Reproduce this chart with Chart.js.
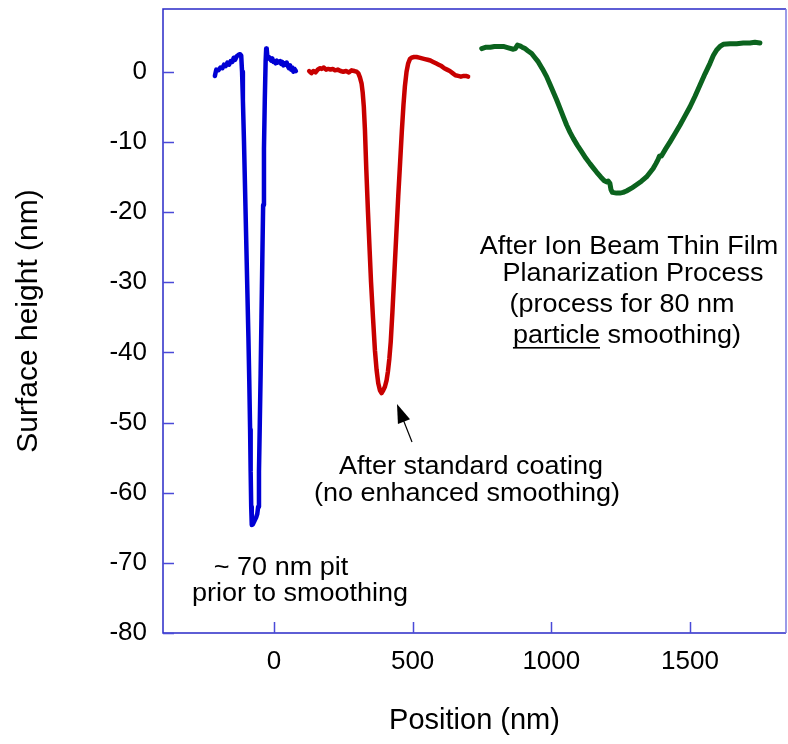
<!DOCTYPE html>
<html>
<head>
<meta charset="utf-8">
<script src="https://cdn.jsdelivr.net/npm/chart.js@4/dist/chart.umd.min.js"></script>
<style>
    body { margin: 0; background: #ffffff; }
    #wrap { width: 788px; height: 744px; }
</style>
</head>
<body>
<div id="wrap"><canvas id="profileChart"></canvas></div>
<script>
// Profile data (nm)
const pitX = [-213, -208, -200, -193, -186, -180, -174, -168, -162, -156, -150, -145, -140, -134, -128, -122, -118,
    -115, -112, -108, -104, -100, -96, -92, -89, -86, -84, -82, -80, -76, -70, -64, -60, -57, -54, -51, -48, -45, -42,
    -39, -36, -33, -30, -28, -26, -24, -21, -18, -14, -10, -6, -2, 2, 6, 10, 14, 18, 22, 26, 30, 34, 38, 42, 46,
    50, 54, 58, 62, 66, 70, 74, 79];
const pitY = [-0.6, 0.3, 0.2, 0.6, 0.5, 1.0, 0.8, 1.3, 1.0, 1.5, 1.4, 2.0, 1.7, 2.2, 2.4, 2.5, 2.3,
    0.0, -4.0, -10, -17, -24, -31, -38, -44, -51, -57, -62, -64.6, -64.5, -64.0, -63.5, -63.0, -62, -57, -50, -43, -35, -27,
    -19, -11, -4, 1.5, 3.3, 3.2, 2.3, 1.9, 2.1, 1.8, 1.6, 1.9, 1.4, 1.5, 1.2, 1.6, 1.3, 1.4, 1.5, 1.1, 1.4, 0.9, 1.2, 1.0, 1.3,
    0.8, 0.5, 0.9, 0.3, 0.6, 0.0, 0.4, 0.1];

const coatX = [127, 135, 142, 150, 158, 165, 172, 180, 188, 196, 204, 212, 220, 230, 240, 250, 260, 270, 280, 290,
    298, 304, 310, 316, 320, 324, 328, 333, 339, 345, 350, 357, 364, 370, 376, 382, 388, 394, 400, 406, 411, 416, 421,
    427, 434, 441, 448, 455, 461, 467, 472, 478, 484, 490, 496, 505, 514, 524, 534, 544, 554, 564, 574, 584,
    594, 604, 614, 624, 634, 644, 654, 664, 674, 684, 692, 700];
const coatY = [0.1, -0.2, 0.1, -0.1, 0.3, 0.5, 0.4, 0.6, 0.3, 0.4, 0.3, 0.4, 0.2, 0.3, 0.1, 0.0, 0.1, -0.1, 0.2, 0.1,
    0.0, -0.2, -0.8, -1.7, -3.0, -5.0, -8.3, -14, -20, -25.5, -30, -35, -39.7, -42.5, -44.4, -45.4, -45.8, -45.4, -44.9, -44.0, -42.7, -40.9, -38.5,
    -34.3, -28.8, -23.3, -17.8, -12.8, -8.5, -4.7, -2.1, 0.0, 1.2, 1.8, 2.0, 2.1, 2.1, 2.0, 1.9, 1.8, 1.7, 1.6, 1.4, 1.2,
    1.0, 0.8, 0.5, 0.3, 0.1, -0.2, -0.5, -0.6, -0.7, -0.6, -0.6, -0.7];

const ionX = [749, 765, 780, 795, 810, 827, 845, 863, 870, 878, 886, 895, 905, 915, 929, 941, 953, 968, 983, 995,
    1007, 1019, 1031, 1043, 1055, 1067, 1079, 1094, 1109, 1124, 1139, 1151, 1163, 1178, 1190, 1199, 1205, 1211, 1215,
    1220, 1235, 1247, 1259, 1271, 1289, 1307, 1325, 1343, 1355, 1367, 1377, 1385, 1390, 1397, 1412, 1428, 1446, 1464,
    1482, 1500, 1518, 1536, 1554, 1572, 1584, 1596, 1608, 1620, 1644, 1668, 1692, 1716, 1734, 1752];
const ionY = [3.3, 3.5, 3.5, 3.6, 3.6, 3.6, 3.4, 3.2, 3.3, 3.8, 3.7, 3.5, 3.3, 3.0, 2.6, 2.0, 1.4, 0.4, -0.7, -1.8,
    -2.9, -4.0, -5.2, -6.4, -7.6, -8.6, -9.5, -10.5, -11.4, -12.3, -13.1, -13.7, -14.3, -15.0, -15.5, -15.7, -15.6, -15.9, -16.8,
    -17.2, -17.3, -17.3, -17.2, -17.0, -16.6, -16.1, -15.6, -15.0, -14.4, -13.8, -13.1, -12.5, -12.0, -12.0, -11.0, -10.0, -8.8, -7.6,
    -6.3, -5.0, -3.5, -1.9, -0.3, 1.2, 2.3, 3.1, 3.6, 3.9, 4.0, 4.0, 4.1, 4.1, 4.2, 4.1];

const xTicks = [0, 500, 1000, 1500];
const yTicks = [0, -10, -20, -30, -40, -50, -60, -70, -80];

const FONT = "'Liberation Sans', Arial, sans-serif";
const AXIS_BLUE = "#2a2ac8";

const toPoints = (xs, ys) => xs.map((x, i) => ({ x: x, y: ys[i] }));

// Annotation text lines (pixel anchors: centre x, baseline y)
const notes = [
    { text: "After Ion Beam Thin Film", x: 629, y: 254 },
    { text: "Planarization Process", x: 633, y: 281 },
    { text: "(process for 80 nm", x: 622, y: 312 },
    { text: "particle smoothing)", x: 627, y: 343, underline: "particle" },
    { text: "After standard coating", x: 471, y: 474 },
    { text: "(no enhanced smoothing)", x: 467, y: 501 },
    { text: "~ 70 nm pit", x: 281, y: 575 },
    { text: "prior to smoothing", x: 300, y: 601 },
];

function drawNote(ctx, note) {
    const stretch = 1.08;
    ctx.save();
    ctx.font = "25px " + FONT;
    ctx.fillStyle = "#000";
    ctx.translate(note.x, note.y);
    ctx.scale(stretch, 1);
    ctx.textAlign = "center";
    ctx.textBaseline = "alphabetic";
    ctx.fillText(note.text, 0, 0);
    if (note.underline) {
        const full = ctx.measureText(note.text).width;
        const part = ctx.measureText(note.underline).width;
        ctx.fillRect(-full / 2, 4, part, 1.6);
    }
    ctx.restore();
}

// Frame, inward ticks, notes and arrow
const decorations = {
    id: "decorations",
    afterDraw(chart) {
        const { ctx, chartArea: a, scales } = chart;
        ctx.save();
        ctx.lineWidth = 1.5;
        ctx.strokeStyle = AXIS_BLUE;
        ctx.beginPath();
        ctx.moveTo(a.right, a.top);
        ctx.lineTo(a.left, a.top);
        ctx.lineTo(a.left, a.bottom);
        ctx.lineTo(a.right, a.bottom);
        ctx.stroke();
        ctx.strokeStyle = "#7a7ae0";
        ctx.beginPath();
        ctx.moveTo(a.right, a.top);
        ctx.lineTo(a.right, a.bottom);
        ctx.stroke();

        ctx.strokeStyle = "#4a4ad8";
        ctx.beginPath();
        yTicks.forEach((v) => {
            const py = Math.round(scales.y.getPixelForValue(v)) + 0.5;
            ctx.moveTo(a.left, py);
            ctx.lineTo(a.left + 11, py);
        });
        xTicks.forEach((v) => {
            const px = Math.round(scales.x.getPixelForValue(v)) + 0.5;
            ctx.moveTo(px, a.bottom);
            ctx.lineTo(px, a.bottom - 11);
        });
        ctx.stroke();
        ctx.restore();

        notes.forEach((n) => drawNote(ctx, n));

        // arrow pointing at the bottom of the red pit
        const tip = { x: 397, y: 404 }, tail = { x: 412, y: 442 };
        const ang = Math.atan2(tip.y - tail.y, tip.x - tail.x);
        ctx.save();
        ctx.strokeStyle = "#000";
        ctx.fillStyle = "#000";
        ctx.lineWidth = 1.2;
        ctx.beginPath();
        ctx.moveTo(tail.x, tail.y);
        ctx.lineTo(tip.x - 14 * Math.cos(ang), tip.y - 14 * Math.sin(ang));
        ctx.stroke();
        ctx.translate(tip.x, tip.y);
        ctx.rotate(ang);
        ctx.beginPath();
        ctx.moveTo(0, 0);
        ctx.lineTo(-19, -6.5);
        ctx.lineTo(-19, 6.5);
        ctx.closePath();
        ctx.fill();
        ctx.restore();
    },
};

const series = (label, xs, ys, color, width) => ({
    label: label,
    data: toPoints(xs, ys),
    showLine: true,
    borderColor: color,
    backgroundColor: color,
    borderWidth: width,
    borderJoinStyle: "round",
    borderCapStyle: "round",
    pointRadius: 0,
    tension: 0,
});

// drop the extra room Chart.js reserves for tick labels at the ends
const noEndPadding = (s) => {
    s.paddingTop = 0;
    s.paddingBottom = 0;
    s.paddingLeft = 0;
    s.paddingRight = 0;
};

new Chart(document.getElementById("profileChart"), {
    type: "scatter",
    data: {
        datasets: [
            series("~70 nm pit", pitX, pitY, "#0000d4", 4.5),
            series("Standard coating", coatX, coatY, "#c80000", 4.5),
            series("Ion beam planarization", ionX, ionY, "#0b631e", 5),
        ],
    },
    options: {
        responsive: true,
        maintainAspectRatio: false,
        animation: false,
        layout: { padding: { left: 0, right: 2, top: 9, bottom: 0 } },
        plugins: { legend: { display: false }, tooltip: { enabled: false } },
        scales: {
            x: {
                type: "linear",
                min: -400,
                max: 1846,
                grid: { display: false, drawTicks: false },
                border: { display: false },
                afterBuildTicks: (s) => { s.ticks = xTicks.map((v) => ({ value: v })); },
                afterFit: (s) => { s.height = 111; noEndPadding(s); },
                ticks: {
                    color: "#000",
                    padding: 13,
                    maxRotation: 0,
                    font: { family: FONT, size: 26 },
                    callback: (v) => String(v),
                },
                title: {
                    display: true,
                    text: "Position (nm)",
                    color: "#000",
                    padding: { top: 0, bottom: 6 },
                    font: { family: FONT, size: 29 },
                },
            },
            y: {
                type: "linear",
                min: -80,
                max: 8.94,
                grid: { display: false, drawTicks: false },
                border: { display: false },
                afterBuildTicks: (s) => { s.ticks = yTicks.map((v) => ({ value: v })); },
                afterFit: (s) => { s.width = 163; noEndPadding(s); },
                ticks: {
                    color: "#000",
                    padding: 16,
                    font: { family: FONT, size: 26 },
                    callback: (v) => String(v),
                },
                title: {
                    display: true,
                    text: "Surface height (nm)",
                    color: "#000",
                    padding: { top: 11, bottom: 0 },
                    font: { family: FONT, size: 30 },
                },
            },
        },
    },
    plugins: [decorations],
});
</script>
</body>
</html>
